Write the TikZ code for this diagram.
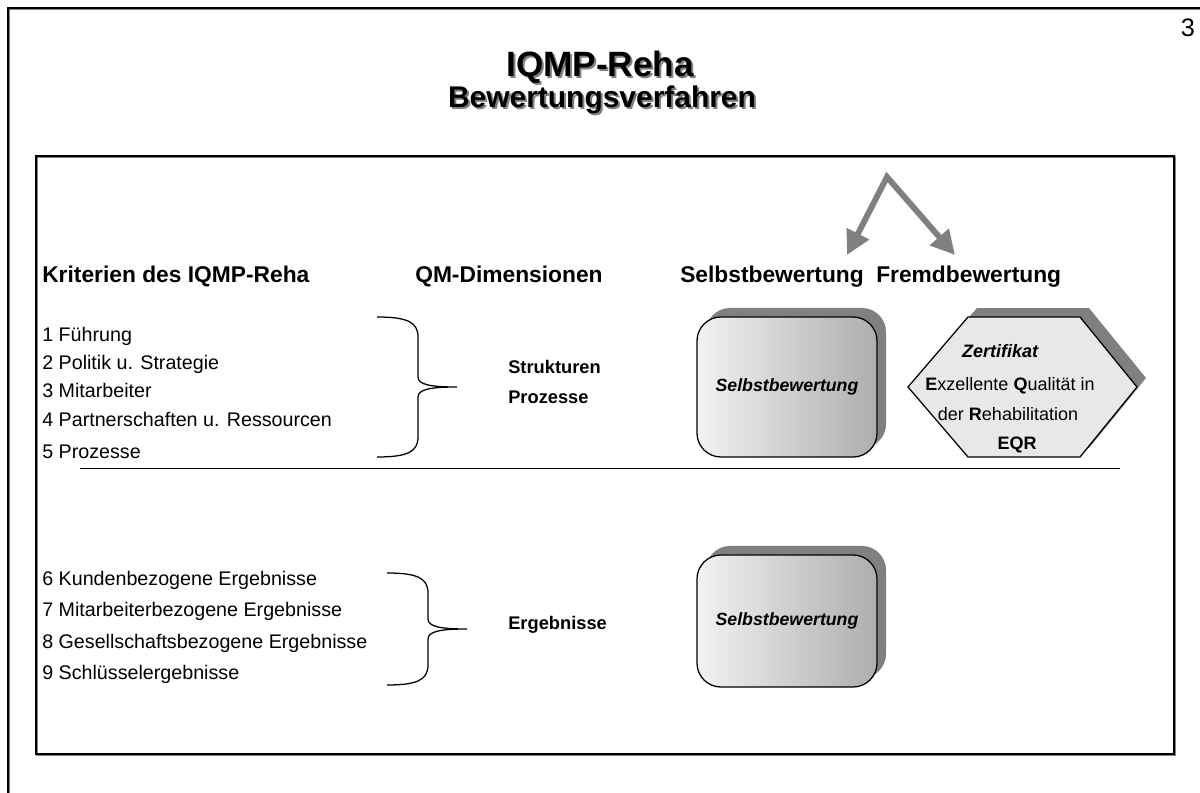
\documentclass[tikz,border=0pt]{standalone}
\usepackage{fontspec}
\setmainfont{Liberation Sans}
\usetikzlibrary{arrows.meta}
\usetikzlibrary{shadows}
\definecolor{shadowgray}{RGB}{128,128,128}
\definecolor{hexfill}{RGB}{232,232,232}
\newcommand{\fsz}[1]{\fontsize{#1pt}{#1pt}\selectfont}
\tikzset{
    item/.style={anchor=base west, inner sep=0pt, font=\fsz{14}},
    heading/.style={anchor=base west, inner sep=0pt, font=\fsz{16.2}\bfseries},
    dimension/.style={anchor=base west, inner sep=0pt, font=\fsz{13}\bfseries},
    title/.style={anchor=base, inner sep=0pt, font=\fsz{25}\bfseries},
    subtitle/.style={title, font=\fsz{21.3}\bfseries},
    hexline/.style={anchor=base, inner sep=0pt, font=\fsz{12.8}},
    bracepen/.style={draw, line width=0.9pt},
    selfbox/.style={draw, line width=0.9pt, rounded corners=0.6cm,
        minimum width=4.5cm, inner sep=0pt,
        left color=black!5, right color=black!32,
        drop shadow={shadow xshift=0.225cm, shadow yshift=0.225cm, fill=shadowgray, opacity=1},
        font=\fsz{12.6}\bfseries\itshape},
    bigarrow/.style={draw=shadowgray, line width=4.2pt, line join=miter,
        {Triangle[length=0.6cm, width=0.6cm]}-{Triangle[length=0.6cm, width=0.6cm]}}
}
\begin{document}
\begin{tikzpicture}[x=0.025cm, y=-0.025cm]
      \useasboundingbox (0,0) rectangle (1200,793);

      \newcommand\curlybrace[4]{
        \begin{scope}[shift={(#1,#2)}]
          \draw[bracepen] (0,0) .. controls (30,0) and (41,5) .. (41,20)
            -- (41,{#3/2-10}) .. controls (41,{#3/2-2}) and (55,{#3/2}) .. (80,{#3/2})
            node (#4) {}
            .. controls (55,{#3/2}) and (41,{#3/2+2}) .. (41,{#3/2+10})
            -- (41,{#3-20}) .. controls (41,{#3-5}) and (30,#3) .. (0,#3);
        \end{scope}
      }

      % page and frame
      \draw[shadowgray, line width=1pt] (9,793) -- (9,9) -- (1200,9);
      \draw[line width=0.9pt] (8,793) -- (8,8) -- (1200,8);
      \draw[shadowgray, line width=1pt] (37,157) rectangle (1175,755);
      \draw[line width=1pt] (36,156) rectangle (1174,754);
      \node[anchor=base, inner sep=0pt, font=\fsz{18}] (page) at (1188,37) {3};

      \node[title, text=shadowgray] at (602,79) {IQMP-Reha};
      \node[title] (title) at (600,77) {IQMP-Reha};
      \node[subtitle, text=shadowgray] at (604,110) {Bewertungsverfahren};
      \node[subtitle] (subtitle) at (602,108) {Bewertungsverfahren};

      \path
          (42,282) node[heading] (crit-head) {Kriterien des IQMP-Reha}
          (415,282) node[heading] (dim-head) {QM-Dimensionen}
          (680,282) node[heading] (self-head) {Selbstbewertung}
          (876,282) node[heading] (ext-head) {Fremdbewertung};

      \path
          (42,341) node[item] (crit-1) {1 Führung}
          ++(0,28) node[item] (crit-2) {2 Politik u. Strategie}
          ++(0,28) node[item] (crit-3) {3 Mitarbeiter}
          ++(0,29) node[item] (crit-4) {4 Partnerschaften u. Ressourcen}
          ++(0,32) node[item] (crit-5) {5 Prozesse};

      \path
          (42,585) node[item] (crit-6) {6 Kundenbezogene Ergebnisse}
          ++(0,31.5) node[item] (crit-7) {7 Mitarbeiterbezogene Ergebnisse}
          ++(0,31.5) node[item] (crit-8) {8 Gesellschaftsbezogene Ergebnisse}
          ++(0,31.5) node[item] (crit-9) {9 Schlüsselergebnisse};

      \curlybrace{377}{317}{140}{brace-a}
      \curlybrace{387}{573}{112}{brace-b}

      \path
          (508,373) node[dimension] (dim-struct) {Strukturen}
          ++(0,30) node[dimension] (dim-proc) {Prozesse}
          (508,629) node[dimension] (dim-result) {Ergebnisse};

      \draw[line width=0.7pt] (80,468) -- (1120,468);

      \node[selfbox, minimum height=3.5cm] (self-a) at (787,387) {Selbstbewertung\hspace{0.4cm}};
      \node[selfbox, minimum height=3.3cm] (self-b) at (787,621) {Selbstbewertung\hspace{0.4cm}};

      \fill[shadowgray] (917,378) -- (977,308) -- (1089,308) -- (1146,378) -- (1089,448) -- (977,448) -- cycle;
      \filldraw[fill=hexfill, line width=0.9pt] (908,387) -- (968,317) -- (1080,317) -- (1137,387) -- (1080,457) -- (968,457) -- cycle;
      \path
          (1000,357) node[hexline, font=\fsz{12.8}\bfseries\itshape] (cert) {Zertifikat}
          (1010,390) node[hexline] (cert-l1) {\textbf{E}xzellente \textbf{Q}ualität in}
          (1008,420) node[hexline] (cert-l2) {der \textbf{R}ehabilitation}
          (1017,449) node[hexline, font=\fsz{12.8}\bfseries] (cert-eqr) {EQR};

      \coordinate (fork) at (887,177);
      \coordinate (fork-self) at (847,255);
      \coordinate (fork-ext) at (955,255);
      \draw[bigarrow] (fork-self) -- (fork) -- (fork-ext);
\end{tikzpicture}
\end{document}
